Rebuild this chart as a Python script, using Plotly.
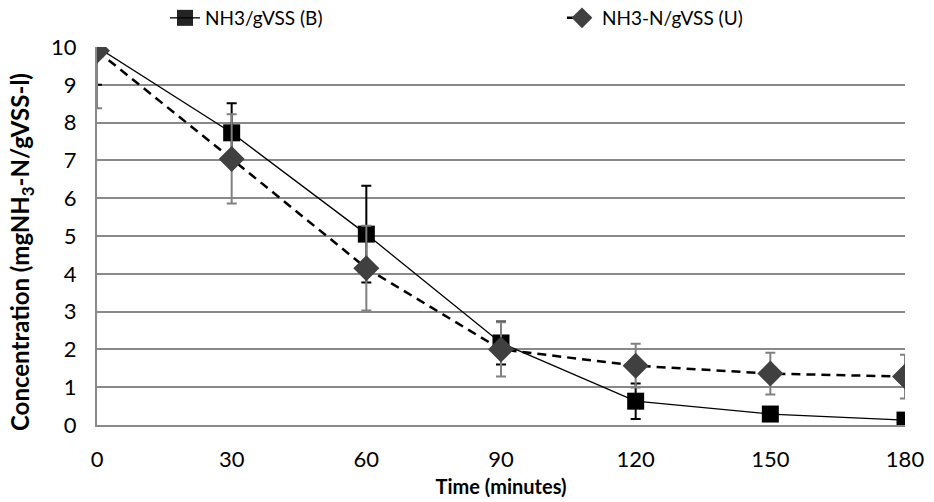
import plotly.graph_objects as go

time_min = [0, 30, 60, 90, 120, 150, 180]
b_values = [10.0, 7.73, 5.05, 2.17, 0.63, 0.29, 0.13]
b_errors = [1.0, 0.78, 1.28, 0.57, 0.47, 0.0, 0.0]
u_values = [9.9, 7.04, 4.15, 2.0, 1.57, 1.36, 1.28]
u_errors = [1.52, 1.18, 1.12, 0.72, 0.58, 0.55, 0.58]

FONT = "Lato, 'Open Sans', sans-serif"

fig = go.Figure()
fig.add_trace(go.Scatter(
    x=time_min, y=b_values, name="NH3/gVSS (B)", mode="lines+markers",
    line=dict(color="black", width=1.3),
    marker=dict(symbol="square", size=17, color="black",
                opacity=[0, 1, 1, 1, 1, 1, 1], line=dict(width=0)),
    error_y=dict(type="data", array=b_errors, visible=True, color="black", thickness=2, width=5),
))
fig.add_trace(go.Scatter(
    x=time_min, y=u_values, name="NH3-N/gVSS (U)", mode="lines+markers",
    line=dict(color="black", width=2.5, dash="9px,6px"),
    marker=dict(symbol="diamond", size=20, color="#404040", line=dict(width=0)),
    error_y=dict(type="data", array=u_errors, visible=True, color="#808080", thickness=2, width=5),
))

fig.add_annotation(
    text="<b>Concentration (mgNH<sub>3</sub>-N/gVSS-l)</b>",
    xref="paper", yref="paper", x=(21 - 97) / 808, y=(425 - 252) / 378,
    xanchor="center", yanchor="middle", textangle=-90, showarrow=False,
    font=dict(size=24, family=FONT, color="black"),
)

fig.update_layout(
    width=934, height=502,
    margin=dict(l=97, r=29, t=47, b=77, autoexpand=False),
    plot_bgcolor="white", paper_bgcolor="white",
    font=dict(family=FONT, size=19, color="black"),
    legend=dict(orientation="h", xref="container", yref="container",
                x=165 / 934, xanchor="left", y=1 - 18 / 502, yanchor="middle",
                entrywidth=352, font=dict(size=19), bgcolor="rgba(0,0,0,0)"),
    xaxis=dict(range=[0, 180], tickvals=time_min, showgrid=False, showline=True,
               linecolor="#898989", linewidth=2, zeroline=False, ticks="",
               ticklabelstandoff=14, automargin=False,
               title=dict(text="<b>Time (minutes)</b>", font=dict(size=20), standoff=9),
               tickfont=dict(size=22)),
    yaxis=dict(range=[0, 10], dtick=1, showgrid=True, gridcolor="#898989", gridwidth=2,
               showline=True, linecolor="#898989", linewidth=2, zeroline=False, ticks="",
               ticklabelstandoff=14, automargin=False,
               tickfont=dict(size=22)),
)
fig.write_html("out.html", config={"displayModeBar": False},
               post_script="document.body.style.margin='0';")
